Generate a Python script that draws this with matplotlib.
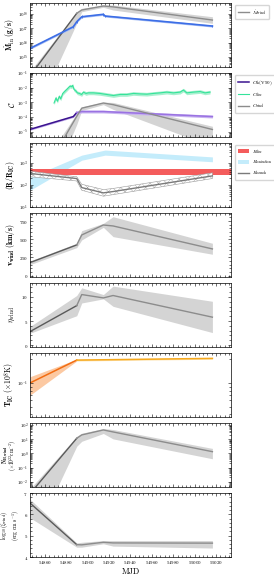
import numpy as np
import matplotlib
matplotlib.use("Agg")
from matplotlib import pyplot as plt
from matplotlib.ticker import MultipleLocator, LogLocator, NullFormatter

plt.rcParams['font.family'] = 'serif'
plt.rcParams['font.serif'] = ['cmr10', 'DejaVu Serif']
plt.rcParams['mathtext.fontset'] = 'cm'
plt.rcParams['axes.formatter.use_mathtext'] = True
plt.rcParams['hatch.linewidth'] = 0.3

# epochs of the wind fits (MJD)
t_wind = [54846, 54889.7, 54894.4, 54914.6, 54923.7, 55016.6]

# panel 1: inner mass accretion rate (log10 g/s)
t_min = [54846, 54886.5, 54889.7, 54894.4, 54914.6, 54916.2, 55016.6]
log_mdot_in = [15.60, 17.11, 17.46, 17.81, 17.98, 17.86, 17.16]
log_mdot_wind = [13.68, 18.05, 18.28, 18.56, 18.50, 17.58]
log_mdot_wind_hi = [14.0, 18.16, 18.40, 18.63, 18.63, 17.81]
log_mdot_wind_lo = [10.25, 17.35, 18.16, 18.47, 18.28, 17.35]

# panel 2: covering fractions (log10)
t_cth = [54846, 54886.5, 54889.7, 54894.4, 54914.6, 54935, 55016.6]
log_cth = [-4.83, -3.96, -3.69, -3.62, -3.62, -3.69, -3.96]
t_cdisc = [54868.5, 54870.3, 54871.6, 54873.4, 54874.7, 54876.6, 54878.7, 54880.3,
           54881.9, 54883.4, 54885.0, 54885.9, 54887.2, 54889.0, 54890.3, 54892.2,
           54894.3, 54895.9, 54898.4, 54900.6, 54905.3, 54911.5, 54917.7, 54924.0,
           54930.2, 54936.5, 54942.7, 54948.9, 54955.2, 54961.4, 54967.6, 54973.9,
           54980.1, 54986.4, 54989.5, 54992.6, 54998.8, 55005.1, 55009.7, 55014.4]
log_cdisc = [-3.04, -2.69, -2.92, -2.58, -2.76, -2.39, -2.23, -2.12,
             -2.00, -1.89, -1.93, -1.84, -2.12, -2.23, -2.35, -2.39,
             -2.46, -2.30, -2.39, -2.35, -2.35, -2.39, -2.46, -2.53,
             -2.46, -2.46, -2.39, -2.42, -2.44, -2.39, -2.35, -2.30,
             -2.35, -2.30, -2.16, -2.35, -2.30, -2.26, -2.35, -2.30]
log_cwind = [-9.4, -3.95, -3.39, -3.04, -3.15, -4.84]
log_cwind_hi = [-8.5, -3.75, -3.30, -2.98, -3.00, -4.62]
log_cwind_lo = [-12.0, -4.50, -3.55, -3.15, -3.47, -6.00]

# panel 3: radii (log10 R/R_IC)
log_rdisc = [2.44, 2.70]
t_rion = [54846, 54894.4, 54916.2, 55016.6]
log_rion_hi = [2.35, 3.35, 3.58, 3.27]
log_rion_lo = [1.76, 3.12, 3.35, 3.05]
log_rlaunch = [2.52, 2.29, 1.88, 1.64, 1.70, 2.41]
log_rlaunch_hi = [2.62, 2.37, 2.03, 1.79, 1.84, 2.55]
log_rlaunch_lo = [2.37, 2.18, 1.76, 1.49, 1.56, 2.29]

# panel 4: wind velocity (km/s)
v_wind = [178, 421, 558, 695, 682, 366]
v_wind_hi = [200, 445, 617, 718, 809, 444]
v_wind_lo = [150, 384, 490, 663, 535, 293]

# panel 5: wind efficiency
eta_wind = [2.8, 8.2, 10.5, 9.8, 10.3, 5.8]
eta_wind_hi = [3.85, 10.3, 11.9, 10.5, 12.25, 9.1]
eta_wind_lo = [2.45, 6.1, 8.75, 9.6, 8.05, 2.6]

# panel 6: Compton temperature (x 1e8 K)
t_tic = [54846, 54889.7, 55016.6]
t_ic = [0.100, 0.195, 0.205]
t_ic_hi = [0.120, 0.200, 0.210]
t_ic_lo = [0.070, 0.190, 0.200]

# panel 7: wind column (log10, x 1e22 cm^-2)
log_nh = [-2.84, 1.06, 1.30, 1.65, 1.51, 0.12]
log_nh_hi = [-2.5, 1.20, 1.42, 1.75, 1.68, 0.35]
log_nh_lo = [-6.5, 0.50, 0.85, 1.40, 1.02, -0.38]

# panel 8: ionisation parameter
log_xi = [6.53, 4.58, 4.57, 4.69, 4.66, 4.65]
log_xi_hi = [6.71, 4.66, 4.69, 4.77, 4.77, 4.77]
log_xi_lo = [5.84, 4.46, 4.46, 4.62, 4.51, 4.42]

p = lambda a: 10 ** np.array(a)

fig = plt.figure(figsize=(2.74, 5.81), dpi=100)
axes = []
for i in range(8):
    top = 3 + 70 * i
    ax = fig.add_axes([30 / 274, 1 - (top + 64) / 581, 201 / 274, 64 / 581])
    axes.append(ax)

gray_band = '#d4d4d4'
gray_line = '#8c8c8c'
dark_gray = '#5a5a5a'
leg_kw = dict(loc='upper left', bbox_to_anchor=(1.01, 1.0), fontsize=3.5,
              frameon=True, edgecolor='#cccccc', handlelength=2.2, borderpad=0.5,
              labelspacing=0.6, fancybox=True)

# 1
ax = axes[0]
ax.fill_between(t_wind, p(log_mdot_wind_lo), p(log_mdot_wind_hi), color=gray_band, lw=0)
ax.plot(t_wind[:2], p(log_mdot_wind[:2]), color=dark_gray, lw=1)
ax.plot(t_wind[1:], p(log_mdot_wind[1:]), color=gray_line, lw=1, label=r'$\dot{M}_{\rm wind}$')
ax.fill_between(t_min, p(log_mdot_in) * 0.85, p(log_mdot_in) * 1.18, color='#a9c0f5', lw=0)
ax.errorbar(t_min, p(log_mdot_in), yerr=[p(log_mdot_in) * 0.2, p(log_mdot_in) * 0.25],
            color='#3d6ee6', lw=1.2, elinewidth=0.6, capsize=0)
ax.set_yscale('log')
ax.set_ylim(10 ** 14.3, 10 ** 18.77)
ax.set_ylabel(r'$\dot{\mathbf{M}}_{\rm in}\ \mathbf{(g/s)}$', fontsize=5.5)
ax.legend(**leg_kw)

# 2
ax = axes[1]
ax.fill_between(t_wind, p(log_cwind_lo), p(log_cwind_hi), color=gray_band, lw=0)
ax.fill_between(t_cth[:3], p(log_cth[:3]) * 0.87, p(log_cth[:3]) * 1.15, color='#b9a3e6', lw=0)
ax.fill_between(t_cth[2:], p(log_cth[2:]) * 0.8, p(log_cth[2:]) * 1.25, color='#c8b4f0', lw=0)
ax.fill_between(t_cdisc, p(log_cdisc) * 0.75, p(log_cdisc) * 1.33, color='#a8f0cf', lw=0)
ax.plot(t_cth[:3], p(log_cth[:3]), color='#3b138f', lw=1.1, label=r'$C_{\rm th}$(V90)')
ax.plot(t_cth[2:], p(log_cth[2:]), color='#9a72e2', lw=1.1)
ax.plot(t_cdisc, p(log_cdisc), color='#35e39a', lw=0.8, label=r'$C_{\rm disc}$')
ax.plot(t_wind, p(log_cwind), color=gray_line, lw=1, label=r'$C_{\rm wind}$')
ax.set_yscale('log')
ax.set_ylim(10 ** -5.35, 10 ** -1)
ax.set_ylabel(r'$\mathcal{C}$', fontsize=6)
ax.legend(**leg_kw)

# 3
ax = axes[2]
ax.fill_between(t_rion, p(log_rion_lo), p(log_rion_hi), color='#c4ecfb', lw=0,
                label=r'$R_{\rm ionisation}$')
ax.axhspan(10 ** log_rdisc[0], 10 ** log_rdisc[1], color='#f45c5c', lw=0, label=r'$R_{\rm disc}$')
ax.fill_between(t_wind, p(log_rlaunch_lo), p(log_rlaunch_hi), facecolor='white',
                edgecolor='#9a9a9a', hatch='xxxx', lw=0.4)
ax.plot(t_wind, p(log_rlaunch), color='#7a7a7a', lw=1, label=r'$R_{\rm launch}$')
ax.set_yscale('log')
ax.set_ylim(10, 10 ** 3.9)
ax.set_ylabel(r'$\mathbf{(R/R_{IC})}$', fontsize=5.5)
h, l = ax.get_legend_handles_labels()
ax.legend([h[1], h[0], h[2]], [l[1], l[0], l[2]], **leg_kw)

# 4
ax = axes[3]
ax.fill_between(t_wind, v_wind_lo, v_wind_hi, color=gray_band, lw=0)
ax.plot(t_wind[:2], v_wind[:2], color=dark_gray, lw=1)
ax.plot(t_wind[1:], v_wind[1:], color=gray_line, lw=1)
ax.set_ylim(-20, 860)
ax.yaxis.set_major_locator(MultipleLocator(250))
ax.yaxis.set_minor_locator(MultipleLocator(50))
ax.set_ylabel(r'$\mathbf{v_{wind}}\ \mathbf{(km/s)}$', fontsize=5.5)

# 5
ax = axes[4]
ax.fill_between(t_wind, eta_wind_lo, eta_wind_hi, color=gray_band, lw=0)
ax.plot(t_wind[:2], eta_wind[:2], color=dark_gray, lw=1)
ax.plot(t_wind[1:], eta_wind[1:], color=gray_line, lw=1)
ax.set_ylim(-0.4, 12.9)
ax.yaxis.set_major_locator(MultipleLocator(5))
ax.yaxis.set_minor_locator(MultipleLocator(1))
ax.set_ylabel(r'$\eta_{\rm wind}$', fontsize=5.5)

# 6
ax = axes[5]
ax.fill_between(t_tic[:2], t_ic_lo[:2], t_ic_hi[:2], color='#fcc9a2', lw=0)
ax.fill_between(t_tic[1:], t_ic_lo[1:], t_ic_hi[1:], color='#fde3b0', lw=0)
ax.plot(t_tic[:2], t_ic[:2], color='#f26d12', lw=1.1)
ax.plot(t_tic[1:], t_ic[1:], color='#f6a91e', lw=1.1)
ax.set_yscale('log')
ax.set_ylim(0.037, 0.24)
ax.yaxis.set_minor_formatter(NullFormatter())
ax.set_ylabel(r'$\mathbf{T_{IC}}\ (\times 10^8\mathrm{K})$', fontsize=5.5)

# 7 (two-line label written as two texts)
ax = axes[6]
ax.fill_between(t_wind, p(log_nh_lo), p(log_nh_hi), color=gray_band, lw=0)
ax.plot(t_wind[:2], p(log_nh[:2]), color=dark_gray, lw=1)
ax.plot(t_wind[1:], p(log_nh[1:]), color=gray_line, lw=1)
ax.set_yscale('log')
ax.set_ylim(10 ** -2.37, 10 ** 2.14)
ax.text(-0.124, 0.5, r'$\mathbf{N_{H,wind}}$', transform=ax.transAxes, rotation=90,
        ha='center', va='center', fontsize=3.8)
ax.text(-0.083, 0.5, r'$(\times 10^{22}\mathrm{cm}^{-2})$', transform=ax.transAxes,
        rotation=90, ha='center', va='center', fontsize=3.8)

# 8
ax = axes[7]
ax.fill_between(t_wind, log_xi_lo, log_xi_hi, color=gray_band, lw=0)
ax.plot(t_wind[:2], log_xi[:2], color=dark_gray, lw=1)
ax.plot(t_wind[1:], log_xi[1:], color=gray_line, lw=1)
ax.set_ylim(4, 7)
ax.yaxis.set_major_locator(MultipleLocator(1))
ax.yaxis.set_minor_locator(MultipleLocator(0.2))
ax.set_ylabel(r'$\log_{10}(\xi_{\rm wind})$' + '\n' + r'$(\mathrm{erg\ cm\ s^{-1}})$',
              fontsize=4.0, linespacing=1.0)
ax.set_xlabel('MJD', fontsize=6, labelpad=1)

label_x = [-0.065, -0.065, -0.065, -0.065, -0.065, -0.065, -0.05, -0.042]
for i, ax in enumerate(axes):
    ax.set_xlim(54846, 55034)
    ax.xaxis.set_major_locator(MultipleLocator(20))
    ax.xaxis.set_minor_locator(MultipleLocator(4))
    if ax.get_yscale() == 'log' and i != 5:
        ax.yaxis.set_major_locator(LogLocator(base=10, numticks=20))
        ax.yaxis.set_minor_locator(LogLocator(base=10, subs=np.arange(2, 10) * 0.1, numticks=20))
    ax.tick_params(which='both', direction='in', top=True, right=True, width=0.4,
                   labelsize=3.5, pad=1.5 if i != 6 else 1.0)
    ax.tick_params(which='major', length=2.2)
    ax.tick_params(which='minor', length=1.2)
    for s in ax.spines.values():
        s.set_linewidth(0.5)
    if i < 7:
        ax.set_xticklabels([])
    # place the y label just left of the tick labels
    ax.yaxis.set_label_coords(label_x[i], 0.5)

plt.savefig('out.png', dpi=100)
